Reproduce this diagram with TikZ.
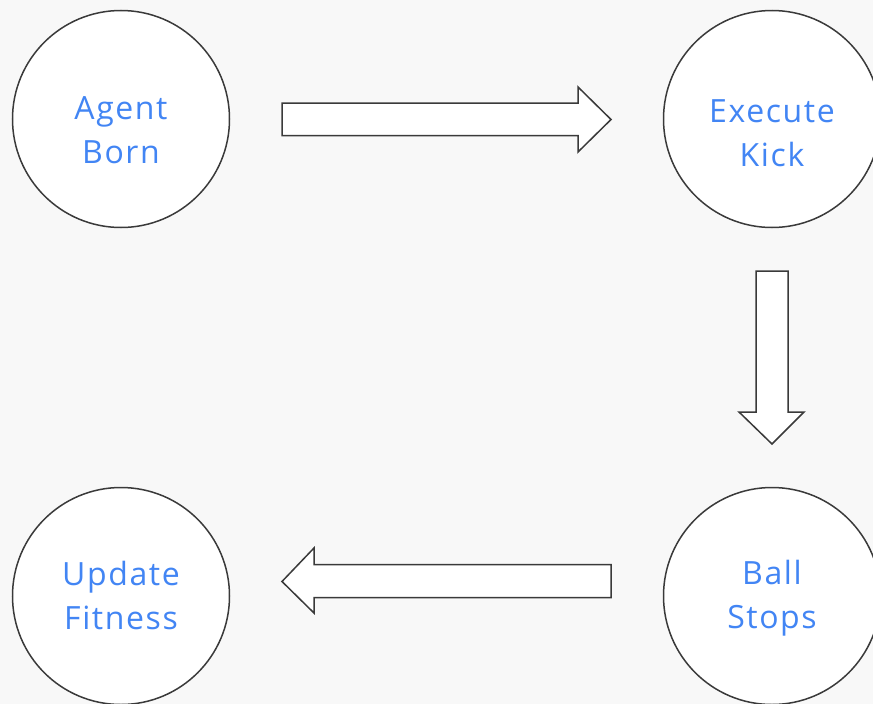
\documentclass[tikz,border=0pt]{standalone}
\usepackage{fontspec}
\setmainfont{Open Sans}[LetterSpace=5]
\definecolor{bg}{HTML}{F8F8F8}
\definecolor{txt}{HTML}{4285F4}
\definecolor{ln}{HTML}{3A3A3A}
\tikzset{
  statecirc/.style={circle, draw=ln, line width=1.5pt, fill=white, minimum size=217pt, inner sep=0pt},
  statetext/.style={text=txt, font=\fontsize{32}{44}\selectfont, align=center, inner sep=0pt},
  blockarrow/.style={draw=ln, line width=1.5pt, fill=white, line join=miter}
}
\begin{document}
\begin{tikzpicture}[x=1pt,y=-1pt]
\path[fill=bg] (0,0) rectangle (873,704);
\useasboundingbox (0,0) rectangle (873,704);
\node[statecirc] (born) at (121,119) {};
\node[statecirc] (kick) at (772,119) {};
\node[statecirc] (stops) at (772,596) {};
\node[statecirc] (fit) at (121,596) {};
\node[statetext] (bornt) at ([yshift=-11pt]born.center) {Agent\\Born};
\node[statetext] (kickt) at ([yshift=-14pt]kick.center) {Execute\\Kick};
\node[statetext] (stopst) at ([yshift=-2pt]stops.center) {Ball\\Stops};
\node[statetext] (fitt) at ([yshift=1pt]fit.center) {Update\\Fitness};
% born -> kick
\draw[blockarrow] (282,103) -- (578,103) -- (578,87) -- (611,119.5) -- (578,152) -- (578,135.5) -- (282,135.5) -- cycle;
% kick -> stops
\draw[blockarrow] (756,271) -- (788,271) -- (788,412) -- (804,412) -- (772,444) -- (739,412) -- (756,412) -- cycle;
% stops -> fit
\draw[blockarrow] (611,564.5) -- (314,564.5) -- (314,548) -- (282,581.5) -- (314,613) -- (314,597.5) -- (611,597.5) -- cycle;
\end{tikzpicture}
\end{document}
